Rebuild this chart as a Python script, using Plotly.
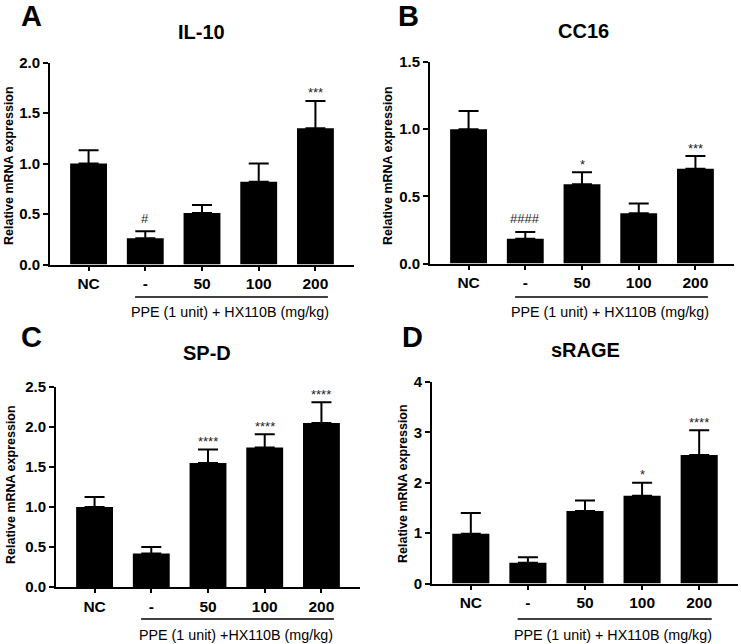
import plotly.graph_objects as go

categories = ["NC", "-", "50", "100", "200"]

il10_mean = [1.00, 0.26, 0.51, 0.82, 1.35]
il10_top = [1.13, 0.33, 0.59, 1.00, 1.62]
il10_sig = ["", "#", "", "", "***"]

cc16_mean = [1.00, 0.185, 0.59, 0.375, 0.705]
cc16_top = [1.135, 0.235, 0.68, 0.447, 0.80]
cc16_sig = ["", "####", "*", "", "***"]

spd_mean = [1.00, 0.42, 1.55, 1.745, 2.05]
spd_top = [1.125, 0.50, 1.72, 1.91, 2.31]
spd_sig = ["", "", "****", "****", "****"]

srage_mean = [0.99, 0.41, 1.44, 1.74, 2.55]
srage_top = [1.40, 0.52, 1.65, 2.00, 3.04]
srage_sig = ["", "", "", "*", "****"]

titles = ["IL-10", "CC16", "SP-D", "sRAGE"]
letters = ["A", "B", "C", "D"]
yticks = [[0, 0.5, 1.0, 1.5, 2.0], [0, 0.5, 1.0, 1.5], [0, 0.5, 1.0, 1.5, 2.0, 2.5], [0, 1, 2, 3, 4]]
ytick_text = [["0.0", "0.5", "1.0", "1.5", "2.0"], ["0.0", "0.5", "1.0", "1.5"],
              ["0.0", "0.5", "1.0", "1.5", "2.0", "2.5"], ["0", "1", "2", "3", "4"]]
bracket_labels = ["PPE (1 unit) + HX110B (mg/kg)", "PPE (1 unit) + HX110B (mg/kg)",
                  "PPE (1 unit) +HX110B (mg/kg)", "PPE (1 unit) + HX110B (mg/kg)"]
ytitle = "Relative mRNA expression"

W, H = 741, 644
FONT = "Liberation Sans, Arial, sans-serif"

# layout (pixels): axis x-left, axis width, plot top, plot bottom
panels = [
    dict(ax=50, aw=304, top=62.5, bot=264.5, title=(201, 32), letter=(31, 16), ytl=(9, 166), brk=297, brk_text=312),
    dict(ax=430, aw=304, top=62, bot=263.5, title=(583, 31), letter=(408, 16), ytl=(388, 165), brk=297, brk_text=312),
    dict(ax=56, aw=304, top=387, bot=587, title=(207, 353), letter=(31, 337), ytl=(11, 485), brk=619, brk_text=635),
    dict(ax=432, aw=306, top=382, bot=583.5, title=(585, 350), letter=(412, 337), ytl=(403, 484), brk=619, brk_text=635),
]

means = [il10_mean, cc16_mean, spd_mean, srage_mean]
tops = [il10_top, cc16_top, spd_top, srage_top]
sigs = [il10_sig, cc16_sig, spd_sig, srage_sig]

fig = go.Figure()
annotations = []
shapes = []
xs = list(range(len(categories)))

for i, p in enumerate(panels):
    n = "" if i == 0 else str(i + 1)
    xa, ya = "x" + n, "y" + n
    m, t = means[i], tops[i]
    err = [tt - mm for tt, mm in zip(t, m)]
    fig.add_trace(go.Bar(
        x=xs, y=m, xaxis=xa, yaxis=ya, width=0.65,
        marker=dict(color="black", line=dict(width=0)),
        error_y=dict(type="data", array=err, arrayminus=[0] * len(err), symmetric=False,
                     color="black", thickness=2, width=10),
        showlegend=False, hoverinfo="skip",
    ))
    xd = [p["ax"] / W, (p["ax"] + p["aw"]) / W]
    yd = [1 - p["bot"] / H, 1 - p["top"] / H]
    fig.layout["xaxis" + n] = dict(
        domain=xd, range=[-0.68, 4.68], anchor=ya, tickmode="array", tickvals=xs,
        ticktext=categories, showline=True, linecolor="black", linewidth=2,
        ticks="outside", ticklen=4, tickwidth=2, tickcolor="black", automargin=False,
        tickfont=dict(family=FONT, size=15.5, color="black", weight="bold"),
        showgrid=False, zeroline=False, fixedrange=True,
    )
    fig.layout["yaxis" + n] = dict(
        domain=yd, range=[0, yticks[i][-1]], anchor=xa, tickmode="array",
        tickvals=yticks[i], ticktext=ytick_text[i], showline=True, linecolor="black",
        linewidth=2, ticks="outside", ticklen=5, tickwidth=2, tickcolor="black", automargin=False,
        tickfont=dict(family=FONT, size=15, color="black", weight="bold"),
        showgrid=False, zeroline=False, fixedrange=True,
    )
    for j, s in enumerate(sigs[i]):
        if s:
            star = s.startswith("*")
            annotations.append(dict(
                x=j, y=t[j], xref=xa, yref=ya, text=s, showarrow=False,
                yanchor="middle", yshift=8 if star else 13,
                font=dict(family=FONT, size=13, color="#222"),
            ))
    annotations.append(dict(x=p["title"][0] / W, y=1 - p["title"][1] / H, xref="paper", yref="paper",
                            text=titles[i], showarrow=False, xanchor="center", yanchor="middle",
                            font=dict(family=FONT, size=20, color="black", weight="bold")))
    annotations.append(dict(x=p["letter"][0] / W, y=1 - p["letter"][1] / H, xref="paper", yref="paper",
                            text=letters[i], showarrow=False, xanchor="center", yanchor="middle",
                            font=dict(family=FONT, size=29, color="black", weight="bold")))
    annotations.append(dict(x=p["ytl"][0] / W, y=1 - p["ytl"][1] / H, xref="paper", yref="paper",
                            text=ytitle, showarrow=False, xanchor="center", yanchor="middle", textangle=-90,
                            font=dict(family=FONT, size=12.5, color="black", weight="bold")))
    shapes.append(dict(type="line", xref=xa, yref="paper", x0=0.82, x1=4.22,
                       y0=1 - p["brk"] / H, y1=1 - p["brk"] / H, line=dict(color="black", width=1.5)))
    annotations.append(dict(x=2.49, y=1 - p["brk_text"] / H, xref=xa, yref="paper",
                            text=bracket_labels[i], showarrow=False, xanchor="center", yanchor="middle",
                            font=dict(family=FONT, size=14.3, color="black")))

fig.update_layout(
    width=W, height=H, margin=dict(l=0, r=0, t=0, b=0, autoexpand=False),
    paper_bgcolor="white", plot_bgcolor="white",
    annotations=annotations, shapes=shapes, bargap=0.35,
)
fig.write_html("out.html", config={"displayModeBar": False})

# remove the browser's default body margin so the figure sits at the page origin
with open("out.html", "r", encoding="utf-8") as f:
    html = f.read()
html = html.replace("<body>", "<body style=\"margin:0;padding:0;overflow:hidden\">", 1)
with open("out.html", "w", encoding="utf-8") as f:
    f.write(html)
